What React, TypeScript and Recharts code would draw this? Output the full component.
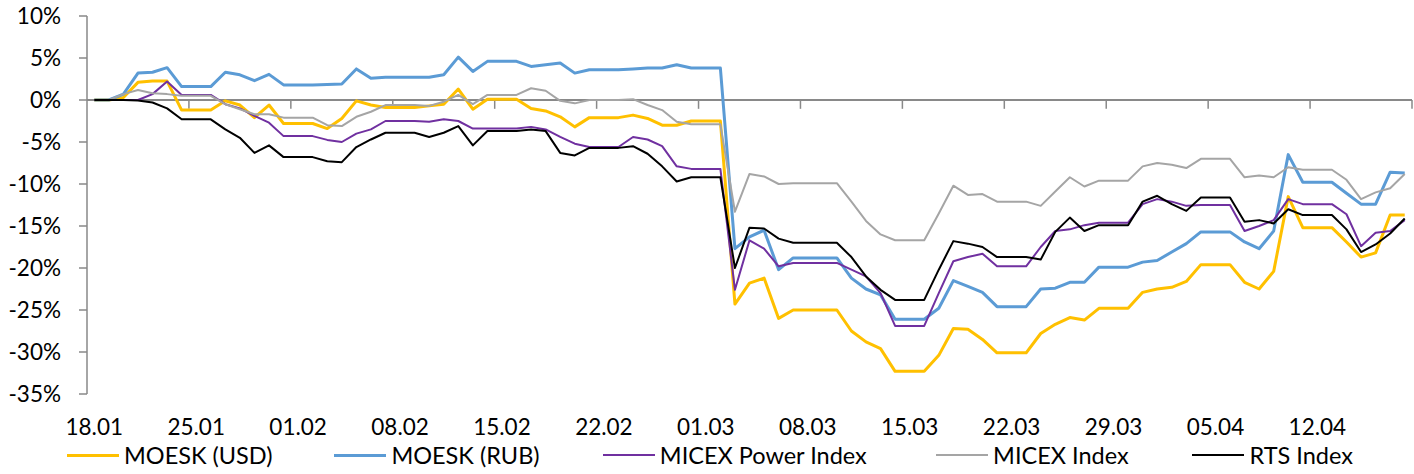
import React from "react";
import { Legend, Line, LineChart, ReferenceLine, XAxis, YAxis } from "recharts";

// calendar days 18.01 .. 18.04 (weekends and holidays repeat the last close)
const dates = [
  "18.01", "19.01", "20.01", "21.01", "22.01", "23.01", "24.01", "25.01", "26.01", "27.01",
  "28.01", "29.01", "30.01", "31.01", "01.02", "02.02", "03.02", "04.02", "05.02", "06.02",
  "07.02", "08.02", "09.02", "10.02", "11.02", "12.02", "13.02", "14.02", "15.02", "16.02",
  "17.02", "18.02", "19.02", "20.02", "21.02", "22.02", "23.02", "24.02", "25.02", "26.02",
  "27.02", "28.02", "01.03", "02.03", "03.03", "04.03", "05.03", "06.03", "07.03", "08.03",
  "09.03", "10.03", "11.03", "12.03", "13.03", "14.03", "15.03", "16.03", "17.03", "18.03",
  "19.03", "20.03", "21.03", "22.03", "23.03", "24.03", "25.03", "26.03", "27.03", "28.03",
  "29.03", "30.03", "31.03", "01.04", "02.04", "03.04", "04.04", "05.04", "06.04", "07.04",
  "08.04", "09.04", "10.04", "11.04", "12.04", "13.04", "14.04", "15.04", "16.04", "17.04",
  "18.04",
];

const tickLabels = ["18.01", "25.01", "01.02", "08.02", "15.02", "22.02", "01.03", "08.03", "15.03", "22.03", "29.03", "05.04", "12.04"];
const yTicks = [-35, -30, -25, -20, -15, -10, -5, 0, 5, 10];

const moeskUsd = [
  0, 0, 0.3, 2.1, 2.25, 2.25, -1.2, -1.2, -1.2, -0.1,
  -0.6, -2.1, -0.6, -2.8, -2.8, -2.8, -3.4, -2.2, -0.1, -0.6,
  -0.9, -0.9, -0.9, -0.7, -0.5, 1.3, -1.1, 0.1, 0.1, 0.1,
  -1.0, -1.3, -2.0, -3.2, -2.1, -2.1, -2.1, -1.8, -2.2, -3.0,
  -3.0, -2.5, -2.5, -2.5, -24.3, -21.8, -21.2, -26.0, -25.0, -25.0,
  -25.0, -25.0, -27.5, -28.8, -29.6, -32.3, -32.3, -32.3, -30.4, -27.2,
  -27.3, -28.5, -30.1, -30.1, -30.1, -27.8, -26.7, -25.9, -26.2, -24.8,
  -24.8, -24.8, -22.9, -22.5, -22.3, -21.6, -19.6, -19.6, -19.6, -21.7,
  -22.5, -20.4, -11.5, -15.2, -15.2, -15.2, -16.9, -18.7, -18.2, -13.7,
  -13.7,
];

const moeskRub = [
  0, 0, 0.7, 3.2, 3.3, 3.85, 1.6, 1.6, 1.6, 3.3,
  3.0, 2.3, 3.05, 1.8, 1.8, 1.8, 1.85, 1.9, 3.7, 2.6,
  2.7, 2.7, 2.7, 2.7, 3.0, 5.1, 3.4, 4.6, 4.6, 4.6,
  4.0, 4.2, 4.4, 3.2, 3.6, 3.6, 3.6, 3.7, 3.8, 3.8,
  4.2, 3.8, 3.8, 3.8, -17.7, -16.3, -15.5, -20.2, -18.8, -18.8,
  -18.8, -18.8, -21.2, -22.5, -23.2, -26.1, -26.1, -26.1, -24.8, -21.5,
  -22.2, -22.9, -24.6, -24.6, -24.6, -22.5, -22.4, -21.7, -21.7, -19.9,
  -19.9, -19.9, -19.3, -19.1, -18.1, -17.1, -15.7, -15.7, -15.7, -16.9,
  -17.7, -15.6, -6.5, -9.8, -9.8, -9.8, -11.1, -12.4, -12.4, -8.6,
  -8.7,
];

const micexPower = [
  0, 0, 0, 0, 0.7, 2.2, 0.6, 0.6, 0.6, -0.5,
  -1.0, -1.9, -2.7, -4.3, -4.3, -4.3, -4.75, -5.0, -4.0, -3.5,
  -2.5, -2.5, -2.5, -2.6, -2.3, -2.5, -3.4, -3.4, -3.4, -3.4,
  -3.2, -3.5, -4.4, -5.2, -5.6, -5.6, -5.6, -4.4, -4.7, -5.5,
  -7.9, -8.2, -8.2, -8.2, -22.6, -16.7, -17.7, -19.8, -19.4, -19.4,
  -19.4, -19.4, -20.2, -21.0, -23.0, -26.9, -26.9, -26.9, -23.0, -19.2,
  -18.7, -18.3, -19.8, -19.8, -19.8, -17.5, -15.6, -15.4, -14.9, -14.6,
  -14.6, -14.6, -12.4, -11.8, -12.1, -12.6, -12.5, -12.5, -12.5, -15.6,
  -15.0, -14.3, -11.8, -12.4, -12.4, -12.4, -13.6, -17.4, -15.8, -15.6,
  -14.3,
];

const micexIndex = [
  0, 0, 0.7, 1.2, 0.8, 0.7, 0.5, 0.5, 0.5, -0.5,
  -1.1, -1.7, -1.7, -2.1, -2.1, -2.1, -3.0, -3.1, -2.0, -1.4,
  -0.6, -0.6, -0.6, -0.7, -0.2, 0.6, -0.5, 0.6, 0.6, 0.6,
  1.4, 1.1, -0.1, -0.4, 0.0, 0.0, 0.0, 0.1, -0.6, -1.2,
  -2.6, -2.9, -2.9, -2.9, -13.3, -8.8, -9.1, -10.0, -9.9, -9.9,
  -9.9, -9.9, -12.1, -14.4, -16.0, -16.7, -16.7, -16.7, -13.5, -10.2,
  -11.3, -11.2, -12.1, -12.1, -12.1, -12.6, -10.9, -9.2, -10.3, -9.6,
  -9.6, -9.6, -7.9, -7.5, -7.7, -8.1, -7.0, -7.0, -7.0, -9.2,
  -9.0, -9.2, -8.0, -8.3, -8.3, -8.3, -9.5, -11.8, -11.0, -10.5,
  -8.8,
];

const rtsIndex = [
  0, 0, 0, -0.05, -0.3, -1.0, -2.3, -2.3, -2.3, -3.5,
  -4.5, -6.3, -5.4, -6.8, -6.8, -6.8, -7.3, -7.4, -5.6, -4.7,
  -3.9, -3.9, -3.9, -4.4, -3.9, -3.1, -5.4, -3.7, -3.7, -3.7,
  -3.5, -3.7, -6.3, -6.6, -5.7, -5.7, -5.7, -5.5, -6.4, -7.9,
  -9.7, -9.2, -9.2, -9.2, -20.0, -15.2, -15.3, -16.5, -17.0, -17.0,
  -17.0, -17.0, -18.7, -21.0, -22.6, -23.8, -23.8, -23.8, -20.2, -16.8,
  -17.1, -17.5, -18.7, -18.7, -18.7, -19.0, -15.7, -14.0, -15.6, -14.9,
  -14.9, -14.9, -12.1, -11.4, -12.4, -13.2, -11.6, -11.6, -11.6, -14.5,
  -14.3, -14.7, -13.0, -13.7, -13.7, -13.7, -15.4, -18.1, -17.2, -15.9,
  -14.1,
];

const series = [
  { key: "usd", name: "MOESK (USD)", color: "#FFC000", width: 3 },
  { key: "rub", name: "MOESK (RUB)", color: "#5B9BD5", width: 3 },
  { key: "power", name: "MICEX Power Index", color: "#7030A0", width: 2 },
  { key: "micex", name: "MICEX Index", color: "#A5A5A5", width: 2 },
  { key: "rts", name: "RTS Index", color: "#000000", width: 2 },
];

const rows = dates.map((date, i) => ({
  d: i,
  date,
  usd: moeskUsd[i],
  rub: moeskRub[i],
  power: micexPower[i],
  micex: micexIndex[i],
  rts: rtsIndex[i],
}));

const labelDays = tickLabels.map((t) => dates.indexOf(t));
// excel puts its tick marks between the day slots
const tickMarks = [...labelDays.slice(1).map((d) => d - 0.5), dates.length - 0.5];

const FONT = "Lato, 'Open Sans', sans-serif";
const AXIS = "#898989";
const itemWidths = [268, 269, 334, 257, 220];

function ChartLegend() {
  return (
    <div style={{ display: "flex", alignItems: "center", height: 26, paddingLeft: 67, fontFamily: FONT, fontSize: 23.5, color: "#000" }}>
      {series.map((s, i) => (
        <div key={s.key} style={{ display: "flex", alignItems: "center", width: itemWidths[i] }}>
          <span style={{ display: "inline-block", width: 52, height: s.width, background: s.color, marginRight: 5 }} />
          <span style={{ whiteSpace: "nowrap" }}>{s.name}</span>
        </div>
      ))}
    </div>
  );
}

export default function App() {
  return (
    <div style={{ position: "absolute", left: 0, top: 0, background: "#fff", fontFamily: FONT }}>
      <LineChart width={1414} height={474} data={rows} margin={{ top: 16, right: 2, left: 0, bottom: 0 }}>
        <XAxis
          dataKey="d"
          type="number"
          domain={[-0.5, dates.length - 0.5]}
          ticks={labelDays}
          interval={0}
          tickFormatter={(v) => dates[v]}
          axisLine={false}
          tickLine={false}
          tickSize={6}
          tickMargin={19}
          height={48}
          tick={{ fontSize: 22.5, fill: "#000", fontFamily: FONT }}
        />
        <YAxis
          domain={[-35, 10]}
          ticks={yTicks}
          interval={0}
          tickFormatter={(v) => `${v}%`}
          width={87}
          axisLine={{ stroke: AXIS, strokeWidth: 1.5 }}
          tickLine={{ stroke: AXIS, strokeWidth: 1.5 }}
          tickSize={8}
          tickMargin={18}
          tick={{ fontSize: 22.5, fill: "#000", fontFamily: FONT }}
        />
        <ReferenceLine y={0} stroke={AXIS} strokeWidth={2} />
        {tickMarks.map((t) => (
          <ReferenceLine key={t} segment={[{ x: t, y: 0 }, { x: t, y: -1.05 }]} stroke={AXIS} strokeWidth={1.5} />
        ))}
        {series.map((s) => (
          <Line
            key={s.key}
            type="linear"
            dataKey={s.key}
            name={s.name}
            stroke={s.color}
            strokeWidth={s.width}
            strokeLinejoin="round"
            dot={false}
            isAnimationActive={false}
          />
        ))}
        <Legend verticalAlign="bottom" height={32} content={() => <ChartLegend />} />
      </LineChart>
    </div>
  );
}
